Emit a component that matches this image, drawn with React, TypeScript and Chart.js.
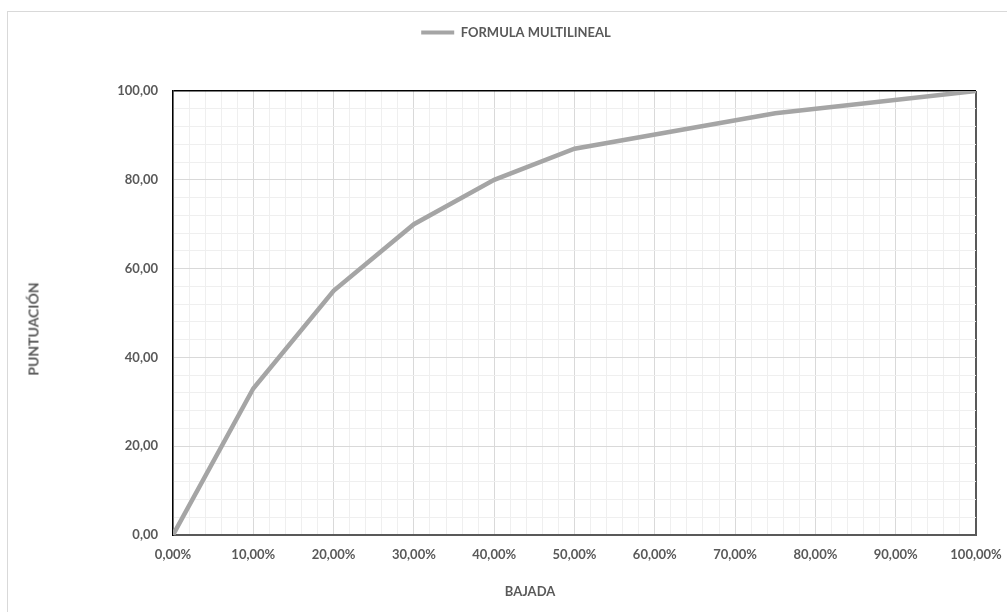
import React, { useEffect, useRef } from "react";
import { Chart, registerables } from "chart.js";

Chart.register(...registerables);

const seriesName = "FORMULA MULTILINEAL";
const bajada = [0, 10, 20, 30, 40, 50, 75, 100];
const puntuacion = [0, 33, 55, 70, 80, 87, 95, 100];
const xTitle = "BAJADA";
const yTitle = "PUNTUACIÓN";

const FONT = "Lato, 'Open Sans', sans-serif";
const TEXT = "#595959";
const SIZE = 13;

const fmt = (v: number) => v.toFixed(2).replace(".", ",");

export default function App() {
  const ref = useRef<HTMLCanvasElement | null>(null);
  useEffect(() => {
    document.body.style.margin = "0";
    const canvas = ref.current!;
    const chart = new Chart(canvas, {
      type: "scatter",
      data: {
        datasets: [
          {
            label: seriesName,
            data: bajada.map((x, i) => ({ x, y: puntuacion[i] })),
            xAxisID: "x",
            yAxisID: "y",
            showLine: true,
            borderColor: "#a5a5a5",
            backgroundColor: "#a5a5a5",
            borderWidth: 4.5,
            pointRadius: 0,
            tension: 0,
          },
        ],
      },
      options: {
        animation: false,
        responsive: false,
        layout: { padding: { top: 16, left: 56, right: 31, bottom: 0 } },
        plugins: {
          tooltip: { enabled: false },
          legend: {
            position: "top",
            labels: {
              boxWidth: 33,
              boxHeight: 4,
              padding: 10,
              color: TEXT,
              font: { family: FONT, size: SIZE, weight: "bold" },
              generateLabels: (c: any) =>
                Chart.defaults.plugins.legend.labels
                  .generateLabels(c)
                  .map((l: any) => ({ ...l, lineWidth: 0, strokeStyle: "rgba(0,0,0,0)" })),
            },
          },
        },
        scales: {
          x: {
            type: "linear",
            min: 0,
            max: 100,
            afterFit: (s: any) => {
              s.height = 77;
              s.paddingRight = 0;
              s.paddingLeft = 0;
            },
            ticks: {
              stepSize: 2,
              autoSkip: false,
              maxRotation: 0,
              padding: 12,
              color: TEXT,
              font: { family: FONT, size: SIZE, weight: "bold" },
              callback: (v: any) => (Math.round(v) % 10 === 0 ? fmt(v) + "%" : ""),
            },
            grid: {
              drawTicks: false,
              color: (c: any) => {
                const v = Math.round(c.tick?.value ?? 0);
                if (v === 100) return "#595959";
                return v % 10 === 0 ? "#d9d9d9" : "#efefef";
              },
              lineWidth: (c: any) => (Math.round(c.tick?.value ?? 0) === 100 ? 2 : 1),
            },
            border: { color: "#595959", width: 2 },
          },
          y: {
            type: "linear",
            min: 0,
            max: 100,
            afterFit: (s: any) => {
              s.width = 117;
            },
            ticks: {
              stepSize: 4,
              autoSkip: false,
              padding: 15,
              color: TEXT,
              font: { family: FONT, size: SIZE, weight: "bold" },
              callback: (v: any) => (Math.round(v) % 20 === 0 ? fmt(v) : ""),
            },
            grid: {
              drawTicks: false,
              color: (c: any) => {
                const v = Math.round(c.tick?.value ?? 0);
                if (v === 100) return "#000000";
                return v % 20 === 0 ? "#d9d9d9" : "#efefef";
              },
              lineWidth: (c: any) => (Math.round(c.tick?.value ?? 0) === 100 ? 1.5 : 1),
            },
            border: { color: "#000000", width: 1.5 },
          },
          spacer: {
            type: "linear",
            position: "top",
            min: 0,
            max: 1,
            ticks: { display: false },
            grid: { display: false },
            border: { display: false },
            afterFit: (s: any) => {
              s.height = 42;
            },
          },
        },
      },
    });
    return () => chart.destroy();
  }, []);

  return (
    <div style={{ position: "relative", width: 1007, height: 612, overflow: "hidden", background: "#fff" }}>
      <div
        style={{
          position: "absolute",
          left: 7,
          top: 11,
          width: 1100,
          height: 700,
          border: "1px solid #d9d9d9",
        }}
      />
      <canvas ref={ref} width={1007} height={612} style={{ position: "absolute", left: 0, top: 0 }} />
      <div
        style={{
          position: "absolute",
          left: 530,
          top: 591,
          transform: "translate(-50%, -50%)",
          fontFamily: FONT,
          fontWeight: "bold",
          fontSize: SIZE,
          color: TEXT,
          whiteSpace: "nowrap",
        }}
      >
        {xTitle}
      </div>
      <div
        style={{
          position: "absolute",
          left: 33,
          top: 329,
          transform: "translate(-50%, -50%) rotate(-90deg)",
          fontFamily: FONT,
          fontWeight: "bold",
          fontSize: 14,
          color: TEXT,
          whiteSpace: "nowrap",
        }}
      >
        {yTitle}
      </div>
    </div>
  );
}
